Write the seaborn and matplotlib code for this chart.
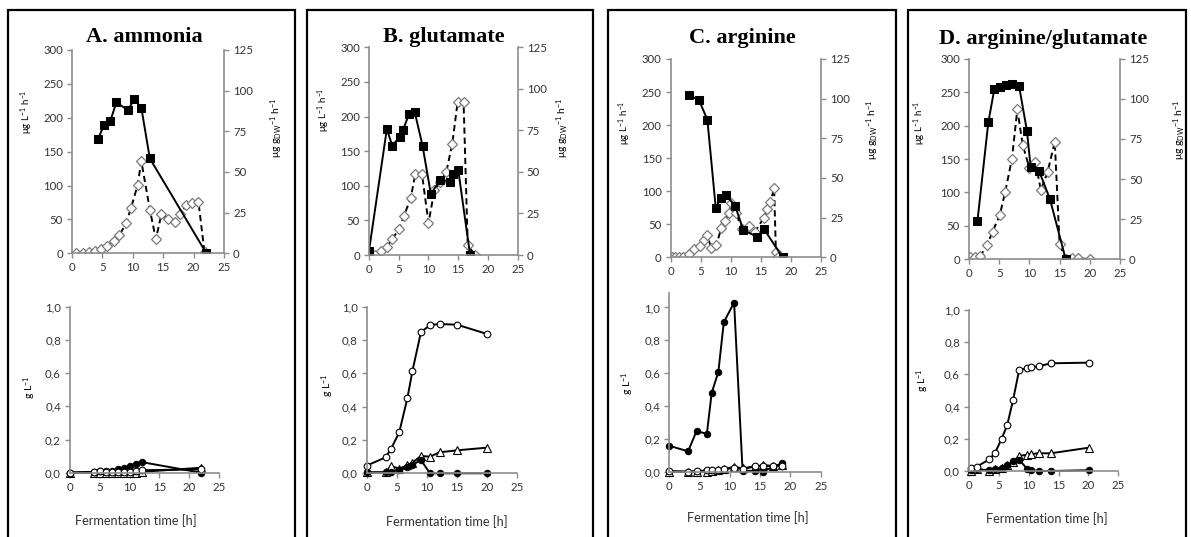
import matplotlib
matplotlib.use("Agg")
import matplotlib.pyplot as plt
import seaborn as sns
from matplotlib.patches import Rectangle
from matplotlib.ticker import FuncFormatter

# ---------- data: top panels (rates) ----------
# black squares: volumetric rate (left axis, ug L-1 h-1)
# open diamonds: specific rate (right axis, ug gDW-1 h-1)
a_sq_t = [4.3, 5.3, 6.3, 7.3, 9.2, 10.2, 11.4, 12.8, 22.1]
a_sq_v = [169, 190, 195, 223, 211, 227, 215, 140, 0]
a_di_t = [0.7, 1.8, 2.8, 3.8, 4.8, 5.8, 6.9, 7.8, 8.9, 9.7, 10.8, 11.4, 12.8,
          13.8, 14.7, 15.8, 16.9, 17.7, 18.8, 19.7, 20.8, 21.8]
a_di_v = [0, 0.4, 0.8, 1.6, 2.4, 4.5, 7.3, 11.2, 18.4, 27.8, 42, 56.7, 26.9,
          8.6, 24.1, 20.8, 19.4, 23.9, 29.4, 31.2, 31.4, 0.6]

b_sq_t = [0, 3.0, 3.9, 5.2, 5.7, 6.7, 7.7, 9.0, 10.4, 12.0, 13.6, 14.2, 15.0, 17.0]
b_sq_v = [6, 182, 158, 171, 180, 203, 206, 158, 88, 109, 106, 117, 123, 0]
b_di_t = [0, 1.0, 2.0, 3.0, 3.9, 5.0, 5.9, 7.0, 7.8, 8.9, 10.0, 11.0, 12.0,
          13.0, 14.0, 14.9, 15.9, 16.6, 17.8]
b_di_v = [0, 0, 2.2, 5.0, 9.4, 15.5, 23.7, 34.1, 49, 49, 19.3, 39, 44,
          50, 67, 92, 92, 6, 0]

c_sq_t = [3.1, 4.7, 6.1, 7.5, 8.3, 9.2, 10.7, 12.1, 14.4, 15.5, 18.6]
c_sq_v = [245, 238, 208, 74, 90, 94, 78, 41, 31, 43, 0]
c_di_t = [0.2, 0.7, 1.4, 2.0, 3.0, 3.9, 4.9, 5.6, 6.1, 6.7, 7.6, 8.4, 9.0,
          9.7, 10.1, 10.8, 11.9, 13.1, 14.0, 15.5, 16.1, 16.6, 17.2, 17.5, 17.9]
c_di_v = [0, 0, 0, 0.4, 2.1, 5.1, 7.2, 11.2, 14.1, 6.1, 7.8, 18.3, 22.9,
          27.8, 34, 28, 18, 20, 16, 25, 30.5, 35, 43.6, 3.2, 0]

d_sq_t = [1.4, 3.2, 4.2, 5.2, 6.2, 7.2, 8.3, 9.6, 10.2, 11.6, 13.4, 16.0]
d_sq_v = [57, 205, 255, 258, 261, 262, 259, 192, 138, 132, 90, 0]
d_di_t = [0.1, 1.0, 1.9, 3.0, 3.9, 5.1, 6.0, 7.1, 8.0, 8.9, 10.0, 11.0, 11.9,
          13.0, 14.2, 15.0, 16.0, 17.1, 18.0, 20.0]
d_di_v = [1.5, 1.5, 1.9, 8.7, 17.1, 27.5, 42, 62.5, 93.5, 71.3, 56.7, 60.4, 43.1,
          54.2, 73.3, 9.4, 0, 0.4, 0.4, 0]

# ---------- data: bottom panels (g L-1) ----------
a_t = [0, 4, 5, 6, 7, 8, 9, 10, 11, 12, 22]
a_fill = [0, 0.005, 0.01, 0.01, 0.01, 0.024, 0.03, 0.04, 0.054, 0.064, 0.0]
a_open = [0, 0.005, 0.012, 0.005, 0.005, 0.005, 0.005, 0.005, 0.01, 0.015, 0.02]
a_tri = [0, 0, 0, 0, 0, 0, 0, 0, 0, 0.005, 0.03]

b_t = [0, 3.15, 4.0, 5.4, 6.75, 7.6, 9.0, 10.5, 12.1, 15.0, 20.0]
b_fill = [0.005, 0.006, 0.01, 0.02, 0.04, 0.05, 0.08, 0.0, 0.0, 0.0, 0.0]
b_open = [0.046, 0.096, 0.144, 0.246, 0.45, 0.616, 0.846, 0.89, 0.896, 0.892, 0.836]
b_tri = [0.005, 0.006, 0.044, 0.028, 0.048, 0.064, 0.104, 0.1, 0.126, 0.138, 0.154]

c_t = [0, 3.1, 4.5, 6.2, 7.0, 8.1, 9.0, 10.7, 12.1, 14.2, 15.5, 17.1, 18.6]
c_fill = [0.158, 0.124, 0.247, 0.231, 0.48, 0.608, 0.91, 1.03, 0.005, 0.005, 0.0, 0.03, 0.05]
c_open = [0.004, 0.0, 0.004, 0.008, 0.01, 0.012, 0.018, 0.02, 0.018, 0.034, 0.036, 0.034, 0.036]
c_tri = [0, 0, 0, 0, 0.005, 0.008, 0.015, 0.03, 0.02, 0.03, 0.04, 0.035, 0.04]

d_t = [0.33, 1.3, 3.4, 4.35, 5.47, 6.4, 7.37, 8.4, 9.7, 10.3, 11.66, 13.7, 20.1]
d_fill = [0.005, 0.01, 0.005, 0.01, 0.02, 0.04, 0.06, 0.07, 0.015, 0.005, 0.0, 0.0, 0.005]
d_open = [0.02, 0.027, 0.072, 0.112, 0.2, 0.286, 0.439, 0.627, 0.638, 0.644, 0.65, 0.669, 0.673]
d_tri = [0.0, 0.012, 0.002, 0.012, 0.02, 0.035, 0.056, 0.095, 0.1, 0.105, 0.11, 0.11, 0.145]

titles = ["A. ammonia", "B. glutamate", "C. arginine", "D. arginine/glutamate"]
x_ticks = [0, 5, 10, 15, 20, 25]

sns.set_style("ticks")
plt.rcParams['font.family'] = ['Lato', 'DejaVu Sans']
plt.rcParams['mathtext.fontset'] = 'custom'
plt.rcParams['mathtext.rm'] = 'Lato'
plt.rcParams['mathtext.it'] = 'Lato'

W, H = 1191, 537
GREY = "#8c8c8c"
TXT = "#333333"

fig = plt.figure(figsize=(W / 100, H / 100), dpi=100)


def box(l, r, t, b):
    return [l / W, 1 - b / H, (r - l) / W, (b - t) / H]


def style(ax, right=False):
    for s in ["top", "right", "left", "bottom"]:
        ax.spines[s].set_visible(False)
    ax.spines["bottom"].set_visible(True)
    ax.spines["right" if right else "left"].set_visible(True)
    for s in ax.spines.values():
        s.set_color(GREY)
        s.set_linewidth(1.2)
    ax.tick_params(colors=GREY, labelcolor=TXT, labelsize=8.2, length=3.5,
                   width=1.0, direction="out", pad=3)
    ax.set_xlabel("")
    ax.set_ylabel("")


# panel frames
frames = [(8, 295), (307, 593), (608, 896), (908, 1186)]
for l, r in frames:
    fig.add_artist(Rectangle((l / W, -0.05), (r - l) / W, 1 - 10 / H + 0.05,
                             transform=fig.transFigure, fill=False,
                             edgecolor="black", linewidth=1.6))

top_boxes = [(72, 224, 50, 253.3), (369, 517.7, 47.3, 255),
             (670.7, 821, 59, 257.3), (969, 1120, 59, 259)]
bot_boxes = [(70, 219, 306.7, 472.7), (366.7, 517.3, 306.7, 473.3),
             (669.3, 820.7, 292.7, 471.7), (969, 1118.3, 310, 471)]
bot_ymax = [1.0, 1.0, 1.09, 1.0]

top_data = [(a_sq_t, a_sq_v, a_di_t, a_di_v), (b_sq_t, b_sq_v, b_di_t, b_di_v),
            (c_sq_t, c_sq_v, c_di_t, c_di_v), (d_sq_t, d_sq_v, d_di_t, d_di_v)]
bot_data = [(a_t, a_tri, a_fill, a_open), (b_t, b_tri, b_fill, b_open),
            (c_t, c_tri, c_fill, c_open), (d_t, d_tri, d_fill, d_open)]

title_pos = [(144, 37), (444, 37), (742, 38), (1043, 39)]
ylab_top_l = [(27, 112), (324, 110), (625, 123), (920, 123)]
ylab_top_r = [(277, 128), (563, 128), (873, 130), (1180, 130)]
ylab_bot = [(30, 387), (328, 385), (628, 383), (923, 380)]
xlab_bot = [(136, 521), (447, 522), (748, 518), (1047, 519)]

lab_left = r"$\mathregular{\mu g\ L^{-1}\ h^{-1}}$"
lab_right = r"$\mathregular{\mu g\ g_{DW}{}^{-1}\ h^{-1}}$"
lab_g = r"$\mathregular{g\ L^{-1}}$"

for i in range(4):
    sq_t, sq_v, di_t, di_v = top_data[i]
    ax = fig.add_axes(box(*top_boxes[i]))
    ax2 = ax.twinx()
    sns.lineplot(x=di_t, y=di_v, ax=ax2, color="black", linewidth=1.4,
                 linestyle=(0, (3.2, 2.0)), marker="D", markersize=5.4,
                 mfc="white", mec="#7a7a7a", mew=0.9, sort=False, errorbar=None)
    sns.lineplot(x=sq_t, y=sq_v, ax=ax, color="black", linewidth=1.4,
                 marker="s", markersize=5.4, mfc="black", mec="black",
                 sort=False, errorbar=None)
    ax.set_zorder(ax2.get_zorder() + 1)
    ax.patch.set_visible(False)
    ax.set_xlim(0, 25)
    ax.set_ylim(0, 300)
    ax.set_xticks(x_ticks)
    ax.set_yticks(range(0, 301, 50))
    ax2.set_ylim(0, 125)
    ax2.set_yticks(range(0, 126, 25))
    style(ax)
    style(ax2, right=True)
    for s in ["left", "bottom"]:
        ax2.spines[s].set_visible(False)
    ax2.tick_params(axis="x", bottom=False, labelbottom=False)

    fig.text(title_pos[i][0] / W, 1 - title_pos[i][1] / H, titles[i],
             family="Liberation Serif", weight="bold", fontsize=16,
             ha="center", va="center", color="black")
    fig.text(ylab_top_l[i][0] / W, 1 - ylab_top_l[i][1] / H, lab_left,
             rotation=90, fontsize=7, ha="center", va="center", color="black")
    fig.text(ylab_top_r[i][0] / W, 1 - ylab_top_r[i][1] / H, lab_right,
             rotation=90, fontsize=7.5, ha="center", va="center", color="black")

    t, tri, fill, opn = bot_data[i]
    bx = fig.add_axes(box(*bot_boxes[i]))
    sns.lineplot(x=t, y=tri, ax=bx, color="black", linewidth=1.4, marker="^",
                 markersize=6, mfc="white", mec="black", mew=0.8,
                 sort=False, errorbar=None)
    sns.lineplot(x=t, y=fill, ax=bx, color="black", linewidth=1.4, marker="o",
                 markersize=4.6, mfc="black", mec="black",
                 sort=False, errorbar=None)
    sns.lineplot(x=t, y=opn, ax=bx, color="black", linewidth=1.4, marker="o",
                 markersize=4.8, mfc="white", mec="black", mew=0.8,
                 sort=False, errorbar=None)
    bx.set_xlim(0, 25)
    bx.set_ylim(0, bot_ymax[i])
    bx.set_xticks(x_ticks)
    bx.set_yticks([0, 0.2, 0.4, 0.6, 0.8, 1.0])
    bx.yaxis.set_major_formatter(FuncFormatter(lambda v, p: f"{v:.1f}".replace(".", ",")))
    style(bx)
    for ln in bx.lines:
        ln.set_clip_on(False)

    fig.text(ylab_bot[i][0] / W, 1 - ylab_bot[i][1] / H, lab_g,
             rotation=90, fontsize=7.5, ha="center", va="center", color="black")
    fig.text(xlab_bot[i][0] / W, 1 - xlab_bot[i][1] / H, "Fermentation time [h]",
             fontsize=9.2, ha="center", va="center", color=TXT)

fig.savefig("out.png", dpi=100)
